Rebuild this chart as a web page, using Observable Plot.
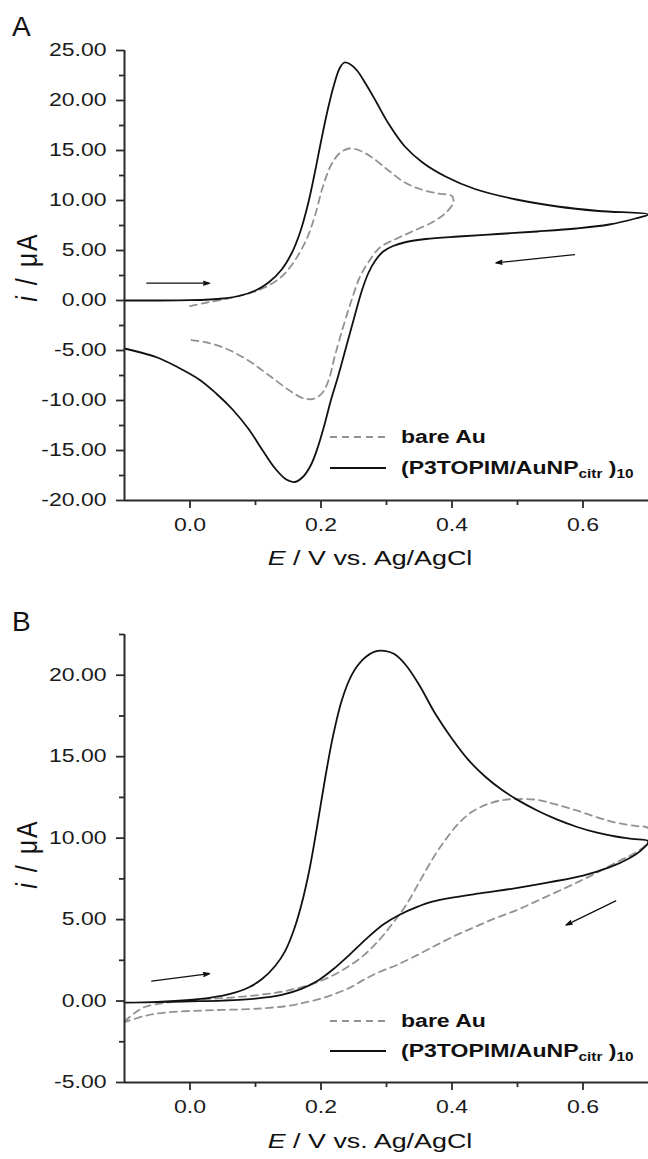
<!DOCTYPE html>
<html><head><meta charset="utf-8">
<script src="https://cdn.jsdelivr.net/npm/d3@7"></script>
<script src="https://cdn.jsdelivr.net/npm/@observablehq/plot@0.6"></script>
<style>
body{margin:0;background:#fff;}
#wrap{position:relative;width:648px;height:1159px;overflow:hidden;font-family:"Liberation Sans",Arial,sans-serif;color:#111;background:#fff;}
.abs{position:absolute;white-space:nowrap;}
.abs sub{font-size:12px;vertical-align:-4px;line-height:0;}
</style></head><body><div id="wrap"></div><script>
// ---------- data (E in V vs Ag/AgCl, i in µA), in sweep order ----------
const panelA_bareAu = [[0.0,-0.56],[0.026,-0.2],[0.058,0.2],[0.089,0.7],[0.114,1.3],[0.14,2.4],[0.158,3.8],[0.177,6.0],[0.19,8.3],[0.2025,11.3],[0.215,13.5],[0.228,14.7],[0.243,15.2],[0.259,15.0],[0.278,14.3],[0.303,13.0],[0.328,11.8],[0.353,11.1],[0.379,10.7],[0.4,10.45],
  [0.402,9.8],[0.391,8.8],[0.372,7.9],[0.341,6.95],[0.316,6.2],[0.29,5.3],[0.272,3.8],[0.259,2.3],[0.2465,0.0],[0.234,-2.6],[0.221,-5.6],[0.212,-7.9],[0.2025,-9.2],[0.19,-9.8],[0.174,-9.8],[0.152,-9.0],[0.121,-7.5],[0.089,-6.0],[0.058,-4.9],[0.026,-4.2],[0.0,-3.95]];
const panelA_film = [[-0.1,0.0],[-0.05,0.0],[0.0,0.03],[0.03,0.1],[0.05,0.2],[0.075,0.45],[0.1,1.0],[0.12,1.8],[0.14,3.1],[0.155,4.7],[0.168,6.8],[0.18,9.6],[0.19,12.6],[0.2,15.9],[0.21,19.0],[0.22,21.6],[0.229,23.3],[0.236,23.8],[0.244,23.65],[0.255,23.0],[0.268,21.7],[0.284,19.9],[0.303,17.7],[0.328,15.4],[0.355,13.8],[0.39,12.4],[0.435,11.15],[0.498,10.1],[0.561,9.4],[0.624,8.95],[0.7,8.6],
  [0.68,8.2],[0.64,7.6],[0.59,7.2],[0.53,6.9],[0.47,6.65],[0.41,6.4],[0.36,6.15],[0.33,5.85],[0.31,5.45],[0.295,4.9],[0.283,4.0],[0.272,2.7],[0.262,0.9],[0.252,-1.4],[0.239,-4.5],[0.226,-7.6],[0.215,-10.0],[0.205,-12.5],[0.195,-14.7],[0.185,-16.4],[0.173,-17.6],[0.16,-18.15],[0.147,-17.9],[0.13,-16.8],[0.11,-14.9],[0.09,-12.9],[0.065,-10.9],[0.04,-9.3],[0.014,-7.9],[-0.018,-6.7],[-0.05,-5.7],[-0.1,-4.8]];
const panelB_bareAu = [[-0.1,-1.25],[-0.085,-0.75],[-0.068,-0.35],[-0.036,-0.1],[0.0,0.05],[0.05,0.18],[0.1,0.35],[0.15,0.65],[0.2,1.25],[0.235,1.95],[0.265,2.8],[0.29,3.8],[0.31,4.8],[0.33,5.9],[0.35,7.3],[0.37,8.7],[0.39,9.9],[0.41,10.9],[0.43,11.6],[0.455,12.1],[0.48,12.35],[0.5,12.4],[0.53,12.35],[0.56,12.05],[0.59,11.7],[0.62,11.3],[0.65,10.95],[0.68,10.75],[0.7,10.6],
  [0.698,9.7],[0.68,9.1],[0.655,8.6],[0.62,7.85],[0.592,7.3],[0.56,6.7],[0.53,6.15],[0.5,5.6],[0.467,5.1],[0.435,4.55],[0.404,4.0],[0.372,3.35],[0.341,2.7],[0.315,2.2],[0.29,1.8],[0.265,1.3],[0.2465,0.87],[0.225,0.5],[0.2025,0.18],[0.18,-0.05],[0.152,-0.28],[0.12,-0.42],[0.089,-0.5],[0.026,-0.57],[-0.036,-0.7],[-0.068,-0.9],[-0.1,-1.3]];
const panelB_film = [[-0.1,-0.1],[-0.05,-0.05],[0.0,0.07],[0.03,0.2],[0.06,0.42],[0.09,0.85],[0.11,1.35],[0.13,2.15],[0.145,3.05],[0.158,4.3],[0.17,5.9],[0.182,8.0],[0.194,10.7],[0.206,13.6],[0.218,16.2],[0.232,18.5],[0.248,20.1],[0.265,21.0],[0.282,21.45],[0.297,21.5],[0.312,21.3],[0.33,20.6],[0.35,19.4],[0.375,17.6],[0.4,16.1],[0.425,14.8],[0.45,13.8],[0.475,13.0],[0.5,12.35],[0.53,11.7],[0.56,11.15],[0.59,10.7],[0.62,10.35],[0.65,10.1],[0.675,9.95],[0.7,9.8],
  [0.69,9.3],[0.67,8.75],[0.64,8.2],[0.6,7.7],[0.55,7.3],[0.5,6.95],[0.45,6.65],[0.4,6.35],[0.37,6.1],[0.345,5.75],[0.32,5.3],[0.295,4.7],[0.27,3.85],[0.245,2.9],[0.22,2.0],[0.195,1.25],[0.17,0.75],[0.14,0.38],[0.1,0.15],[0.05,0.03],[0.0,-0.02],[-0.05,-0.06],[-0.1,-0.1]];
const arrowsA = [{x1:-0.066,y1:1.73,x2:0.03,y2:1.73},{x1:0.587,y1:4.59,x2:0.467,y2:3.76}];
const arrowsB = [{x1:-0.0585,y1:1.22,x2:0.03,y2:1.68},{x1:0.65,y1:6.15,x2:0.574,y2:4.66}];
const xDomain = [-0.1, 0.7];
const xTicks = [0.0, 0.2, 0.4, 0.6];
const xMinor = [0.1, 0.3, 0.5];
const yDomainA = [-20, 25];
const yTicksA = [-20,-15,-10,-5,0,5,10,15,20,25];
const yMinorA = [-17.5,-12.5,-7.5,-2.5,2.5,7.5,12.5,17.5,22.5];
const yDomainB = [-5, 22.5];
const yTicksB = [-5,0,5,10,15,20];
const yMinorB = [-2.5,2.5,7.5,12.5,17.5,22.5];
const seriesNames = ["bare Au", "(P3TOPIM/AuNP<sub>citr</sub> )<sub>10</sub>"];
const panelLabels = ["A", "B"];
const xTitle = "<i>E</i> / V vs. Ag/AgCl";
const yTitle = "<i>i</i> / μA";

const S = 1.28; // horizontal stretch of the original lettering
const AX = "#2a2a2a";
const wrap = document.getElementById("wrap");

function panel({top, height, marginTop, marginBottom, yDomain, yTicks, yMinor, dash, solid, arrows}) {
  const plot = Plot.plot({
    width: 648, height, marginLeft: 124, marginRight: 0, marginTop, marginBottom,
    style: {fontFamily: '"Liberation Sans", Arial, sans-serif', fontSize: "18px", color: "#1a1a1a", background: "transparent", overflow: "visible"},
    x: {domain: xDomain},
    y: {domain: yDomain},
    marks: [
      Plot.line(dash, {x: d => d[0], y: d => d[1], stroke: "#929292", strokeWidth: 1.8, strokeDasharray: "7,5", curve: "catmull-rom"}),
      Plot.line(solid, {x: d => d[0], y: d => d[1], stroke: "#111", strokeWidth: 1.8, curve: "catmull-rom"}),
      Plot.arrow(arrows, {x1: "x1", y1: "y1", x2: "x2", y2: "y2", stroke: "#111", fill: "#111", strokeWidth: 1.2, headLength: 8, headAngle: 35}),
      Plot.axisY(yTicks, {tickSize: 8, tickPadding: 10, tickFormat: d => d.toFixed(2), stroke: AX, strokeWidth: 1.8, label: null}),
      Plot.axisY(yMinor, {tickSize: 5, tickFormat: () => "", stroke: AX, strokeWidth: 1.8, label: null}),
      Plot.axisX(xTicks, {tickSize: 8, tickPadding: 10, tickFormat: d => d.toFixed(1), stroke: AX, strokeWidth: 1.8, label: null}),
      Plot.axisX(xMinor, {tickSize: 5, tickFormat: () => "", stroke: AX, strokeWidth: 1.8, label: null}),
      Plot.ruleX([xDomain[0]], {stroke: AX, strokeWidth: 2}),
      Plot.ruleY([yDomain[0]], {stroke: AX, strokeWidth: 2})
    ]
  });
  for (const t of plot.querySelectorAll("text")) {
    const tr = t.getAttribute("transform") || "";
    let extra = "";
    const xa = t.getAttribute("x");
    if (xa && /^-?[\d.]+$/.test(xa)) { extra = `translate(${xa},0)`; t.removeAttribute("x"); }
    t.setAttribute("transform", `${tr} ${extra} scale(${S},1)`);
  }
  plot.style.position = "absolute";
  plot.style.left = "0px";
  plot.style.top = top + "px";
  wrap.appendChild(plot);
}

function div(html, style) {
  const d = document.createElement("div");
  d.className = "abs";
  d.innerHTML = html;
  Object.assign(d.style, style);
  wrap.appendChild(d);
  return d;
}

function decorations({label, labelTop, xTitleY, yTitleY, legendY}) {
  div(label, {left: "12px", top: labelTop + "px", fontSize: "28px", lineHeight: "28px"});
  div(xTitle, {left: "170px", width: "400px", top: (xTitleY - 15) + "px", height: "30px", lineHeight: "30px", textAlign: "center", fontSize: "21px", transform: `scaleX(${S})`});
  div(yTitle, {left: "-33px", width: "120px", top: (yTitleY - 15) + "px", height: "30px", lineHeight: "30px", textAlign: "center", fontSize: "25px", letterSpacing: "2px", transform: `rotate(-90deg) scaleY(1.15)`});
  const styles = [{stroke: "#929292", dash: "7,5"}, {stroke: "#111", dash: "none"}];
  seriesNames.forEach((name, k) => {
    const st = styles[k];
    div(`<svg width="56" height="4" style="display:block"><line x1="0" y1="2" x2="56" y2="2" stroke="${st.stroke}" stroke-width="1.8" stroke-dasharray="${st.dash}"/></svg>` +
        `<span style="margin-left:15px;font-weight:bold;font-size:18px;display:inline-block;transform:scaleX(${S});transform-origin:left center">${name}</span>`,
        {left: "330px", top: (legendY[k] - 12) + "px", height: "24px", display: "flex", alignItems: "center"});
  });
}

panel({top: 0, height: 580, marginTop: 50, marginBottom: 80, yDomain: yDomainA, yTicks: yTicksA, yMinor: yMinorA, dash: panelA_bareAu, solid: panelA_film, arrows: arrowsA});
panel({top: 580, height: 579, marginTop: 54, marginBottom: 77, yDomain: yDomainB, yTicks: yTicksB, yMinor: yMinorB, dash: panelB_bareAu, solid: panelB_film, arrows: arrowsB});
decorations({label: panelLabels[0], labelTop: 13, xTitleY: 558, yTitleY: 267, legendY: [437, 468]});
decorations({label: panelLabels[1], labelTop: 608, xTitleY: 1141, yTitleY: 854, legendY: [1021, 1051]});
</script></body></html>
